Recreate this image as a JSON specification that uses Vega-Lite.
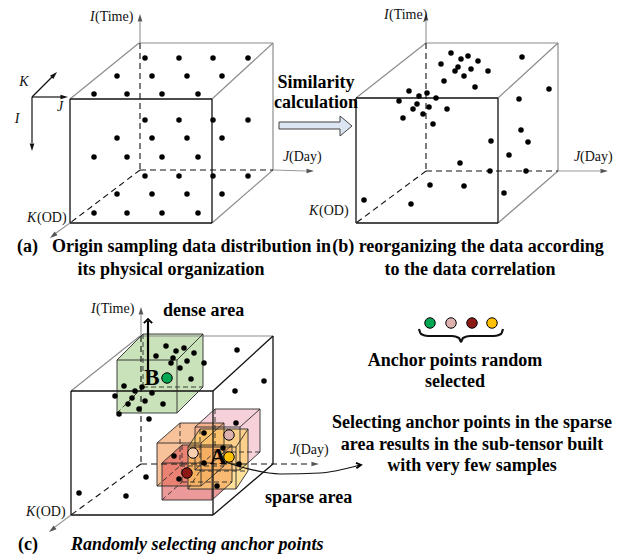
{
  "$schema": "https://vega.github.io/schema/vega-lite/v6.json",
  "width": 621,
  "height": 557,
  "autosize": {"type": "none"},
  "padding": 0,
  "background": "white",
  "config": {"view": {"stroke": null}},
  "datasets": {
    "seg": [
      {"x":70,"y":99,"x2":212,"y2":99,"k":"front"},{"x":212,"y":99,"x2":212,"y2":223,"k":"front"},{"x":212,"y":223,"x2":70,"y2":223,"k":"front"},{"x":70,"y":223,"x2":70,"y2":99,"k":"front"},
      {"x":70,"y":99,"x2":139,"y2":43,"k":"back"},{"x":139,"y":43,"x2":273,"y2":43,"k":"back"},{"x":212,"y":99,"x2":273,"y2":43,"k":"back"},{"x":273,"y":43,"x2":273,"y2":170,"k":"back"},{"x":212,"y":223,"x2":273,"y2":170,"k":"back"},
      {"x":140,"y":43,"x2":140,"y2":170,"k":"hidden"},{"x":140,"y":170,"x2":273,"y2":170,"k":"hidden"},{"x":140,"y":170,"x2":70,"y2":223,"k":"hidden"},
      {"x":140,"y":43,"x2":140,"y2":22,"k":"axis"},{"x":273,"y":170,"x2":306,"y2":171,"k":"axis"},{"x":70,"y":223,"x2":56,"y2":233,"k":"axis"},
      {"x":32,"y":97,"x2":52,"y2":77,"k":"guide"},{"x":32,"y":97,"x2":61,"y2":97,"k":"guide"},{"x":32,"y":97,"x2":32,"y2":143,"k":"guide"},

      {"x":356,"y":98,"x2":498,"y2":98,"k":"front"},{"x":498,"y":98,"x2":498,"y2":223,"k":"front"},{"x":498,"y":223,"x2":356,"y2":223,"k":"front"},{"x":356,"y":223,"x2":356,"y2":98,"k":"front"},
      {"x":356,"y":98,"x2":426,"y2":43,"k":"back"},{"x":426,"y":43,"x2":558,"y2":43,"k":"back"},{"x":498,"y":98,"x2":558,"y2":43,"k":"back"},{"x":558,"y":43,"x2":558,"y2":171,"k":"back"},{"x":498,"y":223,"x2":558,"y2":171,"k":"back"},
      {"x":426,"y":43,"x2":426,"y2":171,"k":"hidden"},{"x":426,"y":171,"x2":558,"y2":171,"k":"hidden"},{"x":426,"y":171,"x2":356,"y2":223,"k":"hidden"},
      {"x":426,"y":43,"x2":426,"y2":21,"k":"axis"},{"x":558,"y":171,"x2":600,"y2":171,"k":"axis"},

      {"x":71,"y":391,"x2":213,"y2":391,"k":"front"},{"x":213,"y":391,"x2":213,"y2":515,"k":"front"},{"x":213,"y":515,"x2":71,"y2":515,"k":"front"},{"x":71,"y":515,"x2":71,"y2":391,"k":"front"},
      {"x":213,"y":391,"x2":273,"y2":336,"k":"front"},{"x":273,"y":336,"x2":273,"y2":464,"k":"front"},{"x":213,"y":515,"x2":273,"y2":464,"k":"front"},
      {"x":71,"y":391,"x2":140,"y2":336,"k":"back"},{"x":140,"y":336,"x2":273,"y2":336,"k":"back"},
      {"x":141,"y":336,"x2":141,"y2":464,"k":"hidden"},{"x":141,"y":464,"x2":311,"y2":464,"k":"hidden"},{"x":141,"y":464,"x2":71,"y2":515,"k":"hidden"},
      {"x":141,"y":336,"x2":141,"y2":315,"k":"axis"},{"x":71,"y":515,"x2":55,"y2":527,"k":"axis"},

      {"x":117,"y":360,"x2":177,"y2":360,"k":"edge"},{"x":177,"y":360,"x2":177,"y2":413,"k":"edge"},{"x":177,"y":413,"x2":117,"y2":413,"k":"edge"},{"x":117,"y":413,"x2":117,"y2":360,"k":"edge"},
      {"x":117,"y":360,"x2":143,"y2":334,"k":"edge"},{"x":143,"y":334,"x2":203,"y2":334,"k":"edge"},{"x":177,"y":360,"x2":203,"y2":334,"k":"edge"},{"x":203,"y":334,"x2":203,"y2":387,"k":"edge"},{"x":177,"y":413,"x2":203,"y2":387,"k":"edge"},
      {"x":143,"y":334,"x2":143,"y2":387,"k":"edgeh"},{"x":143,"y":387,"x2":203,"y2":387,"k":"edgeh"},{"x":117,"y":413,"x2":143,"y2":387,"k":"edgeh"},

      {"x":195,"y":427,"x2":240,"y2":427,"k":"edge"},{"x":240,"y":427,"x2":240,"y2":470,"k":"edge"},{"x":240,"y":470,"x2":195,"y2":470,"k":"edge"},{"x":195,"y":470,"x2":195,"y2":427,"k":"edge"},
      {"x":195,"y":427,"x2":215,"y2":409,"k":"edge"},{"x":215,"y":409,"x2":260,"y2":409,"k":"edge"},{"x":240,"y":427,"x2":260,"y2":409,"k":"edge"},{"x":260,"y":409,"x2":260,"y2":452,"k":"edge"},{"x":240,"y":470,"x2":260,"y2":452,"k":"edge"},
      {"x":215,"y":409,"x2":215,"y2":452,"k":"edgeh"},{"x":215,"y":452,"x2":260,"y2":452,"k":"edgeh"},{"x":195,"y":470,"x2":215,"y2":452,"k":"edgeh"},

      {"x":157,"y":443,"x2":201,"y2":443,"k":"edge"},{"x":201,"y":443,"x2":201,"y2":486,"k":"edge"},{"x":201,"y":486,"x2":157,"y2":486,"k":"edge"},{"x":157,"y":486,"x2":157,"y2":443,"k":"edge"},
      {"x":157,"y":443,"x2":180,"y2":423,"k":"edge"},{"x":180,"y":423,"x2":224,"y2":423,"k":"edge"},{"x":201,"y":443,"x2":224,"y2":423,"k":"edge"},{"x":224,"y":423,"x2":224,"y2":466,"k":"edge"},{"x":201,"y":486,"x2":224,"y2":466,"k":"edge"},
      {"x":180,"y":423,"x2":180,"y2":466,"k":"edgeh"},{"x":180,"y":466,"x2":224,"y2":466,"k":"edgeh"},{"x":157,"y":486,"x2":180,"y2":466,"k":"edgeh"},

      {"x":162,"y":463,"x2":212,"y2":463,"k":"edge"},{"x":212,"y":463,"x2":212,"y2":500,"k":"edge"},{"x":212,"y":500,"x2":162,"y2":500,"k":"edge"},{"x":162,"y":500,"x2":162,"y2":463,"k":"edge"},
      {"x":162,"y":463,"x2":182,"y2":445,"k":"edge"},{"x":182,"y":445,"x2":232,"y2":445,"k":"edge"},{"x":212,"y":463,"x2":232,"y2":445,"k":"edge"},{"x":232,"y":445,"x2":232,"y2":482,"k":"edge"},{"x":212,"y":500,"x2":232,"y2":482,"k":"edge"},
      {"x":182,"y":445,"x2":182,"y2":482,"k":"edgeh"},{"x":182,"y":482,"x2":232,"y2":482,"k":"edgeh"},{"x":162,"y":500,"x2":182,"y2":482,"k":"edgeh"},

      {"x":188,"y":447,"x2":236,"y2":447,"k":"edge"},{"x":236,"y":447,"x2":236,"y2":489,"k":"edge"},{"x":236,"y":489,"x2":188,"y2":489,"k":"edge"},{"x":188,"y":489,"x2":188,"y2":447,"k":"edge"},
      {"x":188,"y":447,"x2":200,"y2":429,"k":"edge"},{"x":200,"y":429,"x2":248,"y2":429,"k":"edge"},{"x":236,"y":447,"x2":248,"y2":429,"k":"edge"},{"x":248,"y":429,"x2":248,"y2":471,"k":"edge"},{"x":236,"y":489,"x2":248,"y2":471,"k":"edge"},
      {"x":200,"y":429,"x2":200,"y2":471,"k":"edgeh"},{"x":200,"y":471,"x2":248,"y2":471,"k":"edgeh"},{"x":188,"y":489,"x2":200,"y2":471,"k":"edgeh"},

      {"x":148,"y":378,"x2":148,"y2":321,"k":"pointer"},

      {"x":279,"y":122,"x2":340,"y2":122,"k":"outline"},{"x":279,"y":129,"x2":340,"y2":129,"k":"outline"},{"x":279,"y":122,"x2":279,"y2":129,"k":"outline"}
    ],
    "heads": [
      {"x":140,"y":14,"dir":"up","k":"axis"},{"x":314,"y":171,"dir":"right","k":"axis"},{"x":50,"y":238,"dir":"downleft","k":"axis"},
      {"x":426,"y":13,"dir":"up","k":"axis"},{"x":608,"y":171,"dir":"right","k":"axis"},
      {"x":141,"y":307,"dir":"up","k":"axis"},{"x":319,"y":464,"dir":"right","k":"axis"},{"x":49,"y":532,"dir":"downleft","k":"axis"},
      {"x":57,"y":72,"dir":"upright","k":"guide"},{"x":68,"y":97,"dir":"right","k":"guide"},{"x":32,"y":151,"dir":"down","k":"guide"}
    ],
    "chev": [
      {"x":148,"y":319,"dir":"up"},{"x":361,"y":465,"dir":"right"}
    ],
    "fills": [
      {"cube":"dense","x":117,"y":360,"y2":413},{"cube":"dense","x":143,"y":334,"y2":413},{"cube":"dense","x":177,"y":334,"y2":413},{"cube":"dense","x":203,"y":334,"y2":387},
      {"cube":"rose","x":195,"y":427,"y2":470},{"cube":"rose","x":215,"y":409,"y2":470},{"cube":"rose","x":240,"y":409,"y2":470},{"cube":"rose","x":260,"y":409,"y2":452},
      {"cube":"peach","x":157,"y":443,"y2":486},{"cube":"peach","x":180,"y":423,"y2":486},{"cube":"peach","x":201,"y":423,"y2":486},{"cube":"peach","x":224,"y":423,"y2":466},
      {"cube":"maroon","x":162,"y":463,"y2":500},{"cube":"maroon","x":182,"y":445,"y2":500},{"cube":"maroon","x":212,"y":445,"y2":500},{"cube":"maroon","x":232,"y":445,"y2":482},
      {"cube":"amber","x":188,"y":447,"y2":489},{"cube":"amber","x":200,"y":429,"y2":489},{"cube":"amber","x":236,"y":429,"y2":489},{"cube":"amber","x":248,"y":429,"y2":471}
    ],
    "arrowHead": [
      {"x":340,"y":116,"y2":136},{"x":352,"y":126,"y2":126}
    ],
    "arrowBody": [
      {"x":279,"x2":341,"y":122,"y2":129}
    ],
    "paths": [
      {"path":"brace","seq":1,"x":419,"y":329},{"path":"brace","seq":2,"x":421,"y":334},{"path":"brace","seq":3,"x":428,"y":336},{"path":"brace","seq":4,"x":452,"y":336},{"path":"brace","seq":5,"x":459,"y":338},{"path":"brace","seq":6,"x":461,"y":342},{"path":"brace","seq":7,"x":463,"y":338},{"path":"brace","seq":8,"x":470,"y":336},{"path":"brace","seq":9,"x":494,"y":336},{"path":"brace","seq":10,"x":501,"y":334},{"path":"brace","seq":11,"x":503,"y":329},
      {"path":"link","seq":1,"x":222,"y":461},{"path":"link","seq":2,"x":245,"y":468},{"path":"link","seq":3,"x":280,"y":474},{"path":"link","seq":4,"x":320,"y":473},{"path":"link","seq":5,"x":360,"y":465}
    ],
    "dots": [
      {"x":145,"y":58,"p":"a"},{"x":179,"y":58,"p":"a"},{"x":213,"y":58,"p":"a"},{"x":248,"y":58,"p":"a"},
      {"x":117,"y":76,"p":"a"},{"x":152,"y":76,"p":"a"},{"x":187,"y":76,"p":"a"},{"x":222,"y":76,"p":"a"},
      {"x":94,"y":94,"p":"a"},{"x":127,"y":94,"p":"a"},{"x":162,"y":94,"p":"a"},{"x":198,"y":94,"p":"a"},
      {"x":145,"y":120,"p":"a"},{"x":179,"y":120,"p":"a"},{"x":213,"y":120,"p":"a"},{"x":248,"y":120,"p":"a"},
      {"x":117,"y":138,"p":"a"},{"x":152,"y":138,"p":"a"},{"x":187,"y":138,"p":"a"},{"x":222,"y":138,"p":"a"},
      {"x":94,"y":157,"p":"a"},{"x":127,"y":157,"p":"a"},{"x":162,"y":157,"p":"a"},{"x":198,"y":157,"p":"a"},
      {"x":145,"y":176,"p":"a"},{"x":179,"y":176,"p":"a"},{"x":213,"y":176,"p":"a"},{"x":248,"y":176,"p":"a"},
      {"x":117,"y":194,"p":"a"},{"x":152,"y":194,"p":"a"},{"x":187,"y":194,"p":"a"},{"x":222,"y":194,"p":"a"},
      {"x":94,"y":213,"p":"a"},{"x":127,"y":213,"p":"a"},{"x":162,"y":213,"p":"a"},{"x":198,"y":213,"p":"a"},

      {"x":451,"y":53,"p":"b"},{"x":461,"y":59,"p":"b"},{"x":468,"y":56,"p":"b"},{"x":478,"y":61,"p":"b"},{"x":441,"y":64,"p":"b"},
      {"x":458,"y":67,"p":"b"},{"x":471,"y":69,"p":"b"},{"x":455,"y":71,"p":"b"},{"x":488,"y":71,"p":"b"},{"x":464,"y":76,"p":"b"},
      {"x":444,"y":81,"p":"b"},{"x":475,"y":87,"p":"b"},{"x":522,"y":57,"p":"b"},{"x":549,"y":89,"p":"b"},{"x":519,"y":99,"p":"b"},
      {"x":409,"y":91,"p":"b"},{"x":427,"y":93,"p":"b"},{"x":419,"y":96,"p":"b"},{"x":399,"y":101,"p":"b"},{"x":436,"y":98,"p":"b"},
      {"x":417,"y":104,"p":"b"},{"x":429,"y":107,"p":"b"},{"x":413,"y":109,"p":"b"},{"x":447,"y":109,"p":"b"},{"x":423,"y":114,"p":"b"},
      {"x":403,"y":118,"p":"b"},{"x":433,"y":124,"p":"b"},{"x":521,"y":130,"p":"b"},{"x":491,"y":141,"p":"b"},{"x":528,"y":142,"p":"b"},
      {"x":509,"y":155,"p":"b"},{"x":460,"y":163,"p":"b"},{"x":490,"y":171,"p":"b"},{"x":526,"y":171,"p":"b"},{"x":430,"y":185,"p":"b"},
      {"x":464,"y":186,"p":"b"},{"x":504,"y":193,"p":"b"},{"x":364,"y":200,"p":"b"},{"x":411,"y":204,"p":"b"},

      {"x":166,"y":346,"p":"c"},{"x":176,"y":351,"p":"c"},{"x":184,"y":348,"p":"c"},{"x":156,"y":356,"p":"c"},{"x":173,"y":358,"p":"c"},
      {"x":194,"y":353,"p":"c"},{"x":171,"y":363,"p":"c"},{"x":180,"y":368,"p":"c"},{"x":187,"y":361,"p":"c"},{"x":204,"y":363,"p":"c"},
      {"x":191,"y":379,"p":"c"},{"x":124,"y":386,"p":"c"},{"x":115,"y":396,"p":"c"},{"x":135,"y":391,"p":"c"},{"x":142,"y":387,"p":"c"},
      {"x":152,"y":393,"p":"c"},{"x":132,"y":398,"p":"c"},{"x":128,"y":404,"p":"c"},{"x":145,"y":401,"p":"c"},{"x":163,"y":404,"p":"c"},
      {"x":119,"y":414,"p":"c"},{"x":139,"y":409,"p":"c"},{"x":149,"y":419,"p":"c"},{"x":237,"y":350,"p":"c"},{"x":264,"y":381,"p":"c"},
      {"x":235,"y":391,"p":"c"},{"x":236,"y":423,"p":"c"},{"x":204,"y":433,"p":"c"},{"x":223,"y":448,"p":"c"},{"x":174,"y":456,"p":"c"},
      {"x":204,"y":463,"p":"c"},{"x":239,"y":464,"p":"c"},{"x":179,"y":479,"p":"c"},{"x":217,"y":486,"p":"c"},{"x":146,"y":477,"p":"c"},
      {"x":79,"y":493,"p":"c"},{"x":126,"y":496,"p":"c"}
    ],
    "anchors": [
      {"x":167,"y":378,"a":"green"},{"x":229,"y":435,"a":"rose"},{"x":193,"y":453,"a":"peach"},{"x":229,"y":457,"a":"amber"},{"x":187,"y":473,"a":"maroon"},
      {"x":430,"y":323,"a":"green"},{"x":451,"y":323,"a":"rose"},{"x":472,"y":323,"a":"maroon"},{"x":492,"y":323,"a":"amber"}
    ],
    "txt": [
      {"x":90,"y":17,"t":"I","r":"axi"},{"x":95,"y":17,"t":"(Time)","r":"ax"},
      {"x":283,"y":157,"t":"J","r":"axi"},{"x":289,"y":157,"t":"(Day)","r":"ax"},
      {"x":27,"y":218,"t":"K","r":"axi"},{"x":37,"y":218,"t":"(OD)","r":"ax"},
      {"x":384,"y":15,"t":"I","r":"axi"},{"x":389,"y":15,"t":"(Time)","r":"ax"},
      {"x":574,"y":157,"t":"J","r":"axi"},{"x":580,"y":157,"t":"(Day)","r":"ax"},
      {"x":309,"y":211,"t":"K","r":"axi"},{"x":319,"y":211,"t":"(OD)","r":"ax"},
      {"x":91,"y":309,"t":"I","r":"axi"},{"x":96,"y":309,"t":"(Time)","r":"ax"},
      {"x":290,"y":450,"t":"J","r":"axi"},{"x":296,"y":450,"t":"(Day)","r":"ax"},
      {"x":26,"y":512,"t":"K","r":"axi"},{"x":36,"y":512,"t":"(OD)","r":"ax"},
      {"x":24,"y":82,"t":"K","r":"ori"},{"x":60,"y":107,"t":"J","r":"ori"},{"x":17,"y":119,"t":"I","r":"ori"},
      {"x":316,"y":83,"t":"Similarity","r":"capc"},{"x":316,"y":103,"t":"calculation","r":"capc"},
      {"x":17,"y":247,"t":"(a)","r":"cap"},{"x":52,"y":247,"t":"Origin sampling data distribution in","r":"cap"},
      {"x":171,"y":270,"t":"its physical organization","r":"capc"},
      {"x":468,"y":247,"t":"(b) reorganizing the data according","r":"capc"},
      {"x":470,"y":270,"t":"to the data correlation","r":"capc"},
      {"x":18,"y":545,"t":"(c)","r":"cap"},{"x":71,"y":545,"t":"Randomly selecting anchor points","r":"capbi"},
      {"x":163,"y":311,"t":"dense area","r":"cap"},
      {"x":455,"y":361,"t":"Anchor points random","r":"capc"},{"x":455,"y":382,"t":"selected","r":"capc"},
      {"x":472,"y":423,"t":"Selecting anchor points in the sparse","r":"capc"},
      {"x":472,"y":445,"t":"area results in the sub-tensor built","r":"capc"},
      {"x":472,"y":466,"t":"with very few samples","r":"capc"},
      {"x":265,"y":498,"t":"sparse area","r":"cap"},
      {"x":152,"y":378,"t":"B","r":"big"},{"x":218,"y":457,"t":"A","r":"big"}
    ]
  },
  "encoding": {
    "x": {"field": "x", "type": "quantitative", "scale": {"domain": [0, 621], "nice": false, "zero": false}, "axis": null},
    "y": {"field": "y", "type": "quantitative", "scale": {"domain": [0, 557], "reverse": true, "nice": false, "zero": false}, "axis": null}
  },
  "layer": [
    {
      "data": {"name": "arrowHead"},
      "mark": {"type": "area", "fill": "#dce6f2", "stroke": "#404040", "strokeWidth": 1, "opacity": 1},
      "encoding": {
        "y": {"field": "y", "type": "quantitative", "stack": null},
        "y2": {"field": "y2"}
      }
    },
    {
      "data": {"name": "arrowBody"},
      "mark": {"type": "rect", "fill": "#dce6f2", "opacity": 1},
      "encoding": {"x2": {"field": "x2"}, "y2": {"field": "y2"}}
    },
    {
      "data": {"name": "seg"},
      "transform": [{"filter": "datum.k === 'outline'"}],
      "mark": {"type": "rule", "color": "#404040", "strokeWidth": 1},
      "encoding": {"x2": {"field": "x2"}, "y2": {"field": "y2"}}
    },
    {
      "data": {"name": "fills"},
      "mark": {"type": "area", "opacity": 0.62},
      "encoding": {
        "y": {"field": "y", "type": "quantitative", "stack": null},
        "y2": {"field": "y2"},
        "color": {"field": "cube", "type": "nominal", "legend": null,
          "scale": {"domain": ["dense", "rose", "peach", "maroon", "amber"], "range": ["#a9d18e", "#f0b4c4", "#f29c5c", "#e05a5a", "#ffcf5a"]}}
      }
    },
    {
      "data": {"name": "seg"},
      "transform": [{"filter": "datum.k === 'back'"}],
      "mark": {"type": "rule", "color": "#8c8c8c", "strokeWidth": 1.2},
      "encoding": {"x2": {"field": "x2"}, "y2": {"field": "y2"}}
    },
    {
      "data": {"name": "seg"},
      "transform": [{"filter": "datum.k === 'axis'"}],
      "mark": {"type": "rule", "color": "#9a9a9a", "strokeWidth": 1.2},
      "encoding": {"x2": {"field": "x2"}, "y2": {"field": "y2"}}
    },
    {
      "data": {"name": "seg"},
      "transform": [{"filter": "datum.k === 'front'"}],
      "mark": {"type": "rule", "color": "#111111", "strokeWidth": 1.3},
      "encoding": {"x2": {"field": "x2"}, "y2": {"field": "y2"}}
    },
    {
      "data": {"name": "seg"},
      "transform": [{"filter": "datum.k === 'hidden'"}],
      "mark": {"type": "rule", "color": "#111111", "strokeWidth": 1.1, "strokeDash": [6, 4]},
      "encoding": {"x2": {"field": "x2"}, "y2": {"field": "y2"}}
    },
    {
      "data": {"name": "seg"},
      "transform": [{"filter": "datum.k === 'guide'"}],
      "mark": {"type": "rule", "color": "#111111", "strokeWidth": 1.2},
      "encoding": {"x2": {"field": "x2"}, "y2": {"field": "y2"}}
    },
    {
      "data": {"name": "seg"},
      "transform": [{"filter": "datum.k === 'edge'"}],
      "mark": {"type": "rule", "color": "#2a2a2a", "strokeWidth": 0.9},
      "encoding": {"x2": {"field": "x2"}, "y2": {"field": "y2"}}
    },
    {
      "data": {"name": "seg"},
      "transform": [{"filter": "datum.k === 'edgeh'"}],
      "mark": {"type": "rule", "color": "#2a2a2a", "strokeWidth": 0.9, "strokeDash": [5, 3]},
      "encoding": {"x2": {"field": "x2"}, "y2": {"field": "y2"}}
    },
    {
      "data": {"name": "seg"},
      "transform": [{"filter": "datum.k === 'pointer'"}],
      "mark": {"type": "rule", "color": "#000000", "strokeWidth": 2.2},
      "encoding": {"x2": {"field": "x2"}, "y2": {"field": "y2"}}
    },
    {
      "data": {"name": "heads"},
      "transform": [{"filter": "datum.k === 'axis'"}],
      "mark": {"type": "point", "filled": true, "color": "#555555", "size": 90, "opacity": 1},
      "encoding": {
        "shape": {"field": "dir", "type": "nominal", "legend": null,
          "scale": {"domain": ["up", "right", "down", "downleft", "upright"],
            "range": ["M0,0L0.5,1.6L-0.5,1.6Z", "M0,0L-1.6,-0.5L-1.6,0.5Z", "M0,0L0.5,-1.6L-0.5,-1.6Z", "M0,0L1.58,-0.56L0.98,-1.36Z", "M0,0L-0.78,1.48L-1.48,0.78Z"]}}
      }
    },
    {
      "data": {"name": "heads"},
      "transform": [{"filter": "datum.k === 'guide'"}],
      "mark": {"type": "point", "filled": true, "color": "#111111", "size": 90, "opacity": 1},
      "encoding": {
        "shape": {"field": "dir", "type": "nominal", "legend": null,
          "scale": {"domain": ["up", "right", "down", "downleft", "upright"],
            "range": ["M0,0L0.5,1.6L-0.5,1.6Z", "M0,0L-1.6,-0.5L-1.6,0.5Z", "M0,0L0.5,-1.6L-0.5,-1.6Z", "M0,0L1.58,-0.56L0.98,-1.36Z", "M0,0L-0.78,1.48L-1.48,0.78Z"]}}
      }
    },
    {
      "data": {"name": "paths"},
      "transform": [{"filter": "datum.path === 'brace'"}],
      "mark": {"type": "line", "color": "#111111", "strokeWidth": 2.2, "interpolate": "monotone"},
      "encoding": {"order": {"field": "seq", "type": "quantitative"}}
    },
    {
      "data": {"name": "paths"},
      "transform": [{"filter": "datum.path === 'link'"}],
      "mark": {"type": "line", "color": "#111111", "strokeWidth": 1.2, "interpolate": "monotone"},
      "encoding": {"order": {"field": "seq", "type": "quantitative"}}
    },
    {
      "data": {"name": "chev"},
      "mark": {"type": "point", "filled": false, "color": "#000000", "strokeWidth": 1.8, "size": 70, "opacity": 1},
      "encoding": {
        "shape": {"field": "dir", "type": "nominal", "legend": null,
          "scale": {"domain": ["up", "right"], "range": ["M-1,1L0,0L1,1", "M-1.2,-0.5L0,0L-1.1,0.8"]}}
      }
    },
    {
      "data": {"name": "dots"},
      "mark": {"type": "point", "filled": true, "color": "#000000", "size": 30, "opacity": 1}
    },
    {
      "data": {"name": "anchors"},
      "mark": {"type": "point", "filled": true, "stroke": "#000000", "strokeWidth": 1, "size": 110, "opacity": 1},
      "encoding": {
        "fill": {"field": "a", "type": "nominal", "legend": null,
          "scale": {"domain": ["green", "rose", "peach", "maroon", "amber"], "range": ["#00a651", "#dcb1ae", "#f9cfb0", "#8b1a14", "#ffc000"]}}
      }
    },
    {
      "data": {"name": "txt"},
      "transform": [{"filter": "datum.r === 'axi'"}],
      "mark": {"type": "text", "font": "Liberation Serif", "fontSize": 14, "fontStyle": "italic", "align": "left", "baseline": "middle", "color": "#111111"},
      "encoding": {"text": {"field": "t"}}
    },
    {
      "data": {"name": "txt"},
      "transform": [{"filter": "datum.r === 'ax'"}],
      "mark": {"type": "text", "font": "Liberation Serif", "fontSize": 14, "align": "left", "baseline": "middle", "color": "#111111"},
      "encoding": {"text": {"field": "t"}}
    },
    {
      "data": {"name": "txt"},
      "transform": [{"filter": "datum.r === 'ori'"}],
      "mark": {"type": "text", "font": "Liberation Serif", "fontSize": 14, "fontStyle": "italic", "align": "center", "baseline": "middle", "color": "#111111"},
      "encoding": {"text": {"field": "t"}}
    },
    {
      "data": {"name": "txt"},
      "transform": [{"filter": "datum.r === 'cap'"}],
      "mark": {"type": "text", "font": "Liberation Serif", "fontSize": 18, "fontWeight": "bold", "align": "left", "baseline": "middle", "color": "#000000"},
      "encoding": {"text": {"field": "t"}}
    },
    {
      "data": {"name": "txt"},
      "transform": [{"filter": "datum.r === 'capc'"}],
      "mark": {"type": "text", "font": "Liberation Serif", "fontSize": 18, "fontWeight": "bold", "align": "center", "baseline": "middle", "color": "#000000"},
      "encoding": {"text": {"field": "t"}}
    },
    {
      "data": {"name": "txt"},
      "transform": [{"filter": "datum.r === 'capbi'"}],
      "mark": {"type": "text", "font": "Liberation Serif", "fontSize": 18, "fontWeight": "bold", "fontStyle": "italic", "align": "left", "baseline": "middle", "color": "#000000"},
      "encoding": {"text": {"field": "t"}}
    },
    {
      "data": {"name": "txt"},
      "transform": [{"filter": "datum.r === 'big'"}],
      "mark": {"type": "text", "font": "Liberation Serif", "fontSize": 23, "fontWeight": "bold", "align": "center", "baseline": "middle", "color": "#000000"},
      "encoding": {"text": {"field": "t"}}
    }
  ],
  "resolve": {"scale": {"color": "independent", "fill": "independent", "shape": "independent"}}
}
